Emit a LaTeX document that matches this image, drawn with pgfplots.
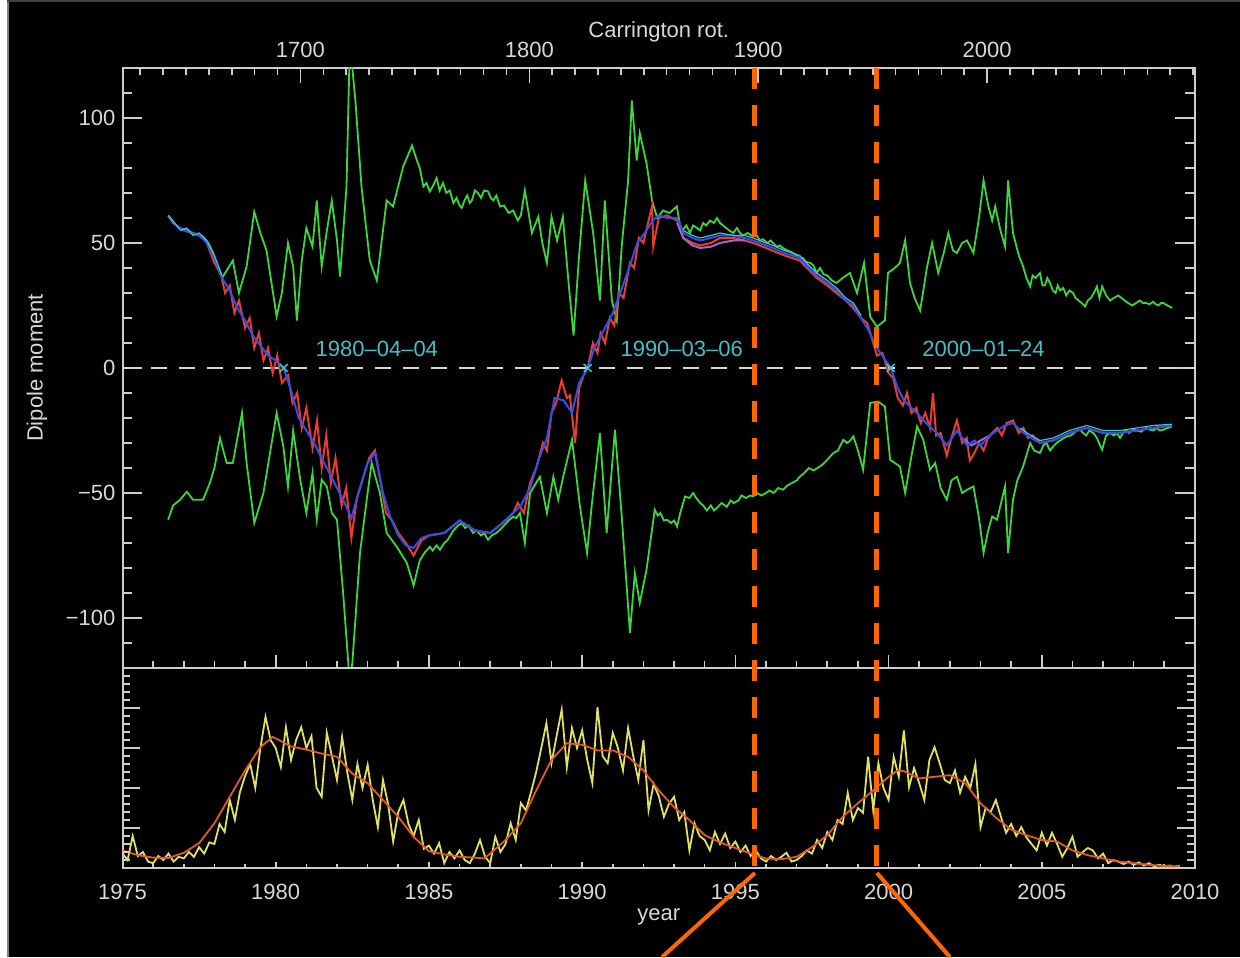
\documentclass[border=0pt]{standalone}
\usepackage{fontspec}
\setmainfont{Liberation Sans}
\usepackage{pgfplots}
\pgfplotsset{compat=1.18}
\definecolor{axc}{RGB}{205,205,205}
\definecolor{txt}{RGB}{215,215,215}
\definecolor{grn}{RGB}{60,215,60}
\definecolor{redl}{RGB}{235,60,50}
\definecolor{bluel}{RGB}{50,80,230}
\definecolor{cyanl}{RGB}{70,190,210}
\definecolor{purl}{RGB}{170,100,200}
\definecolor{lab}{RGB}{70,190,200}
\definecolor{yel}{RGB}{225,225,100}
\definecolor{smo}{RGB}{225,90,40}
\definecolor{orn}{RGB}{255,102,0}
\pgfplotsset{
  base/.style={scale only axis, width=536.25pt, xmin=1975, xmax=2010, anchor=south west,
    axis line style={draw=axc, line width=1pt}, tick style={draw=axc, line width=0.8pt},
    tick align=inside,
    ticklabel style={text=txt, font=\fontsize{11}{13}\selectfont},
    label style={text=txt, font=\fontsize{11}{13}\selectfont},
    /pgf/number format/assume math mode=true},
}
\begin{document}
\begin{tikzpicture}
\fill[black] (0,0) rectangle (620pt,478.5pt);
\fill[white] (0,0) rectangle (3.5pt,478.5pt);
\draw[gray, line width=0.7pt] (3.9pt,0) -- (3.9pt,478.5pt);
\draw[black!75, line width=1pt] (3.5pt,478pt) -- (620pt,478pt);

% ---------- top panel: data ----------
\begin{axis}[base, at={(61.25pt,144.5pt)}, height=300pt, ymin=-120, ymax=120,
  xtick=\empty, ytick={-100,-50,0,50,100}, yticklabels={−100,−50,0,50,100},
  minor ytick={-110,-100,...,110}, yticklabel pos=left,
  major tick length=10pt, minor tick length=5pt,
  ylabel={Dipole moment}, ylabel style={at={(axis description cs:-0.0797,0.5)}, anchor=center}]
\addplot[draw=txt, line width=1.2pt, dash pattern=on 8pt off 6pt] coordinates {(1975,0) (2010,0)};
% upper green
\addplot[draw=grn, line width=0.9pt] table {
1976.49 61
1976.65 58
1976.88 56
1977.1 55
1977.3 54
1977.63 52.5
1977.8 50
1977.96 46
1978.1 40
1978.25 36
1978.4 39
1978.6 43
1978.8 30
1979.05 40.6
1979.3 62.5
1979.5 54
1979.7 47
1979.85 35
1980.03 20.6
1980.2 30
1980.4 50
1980.57 40.5
1980.69 19
1980.85 43
1981.0 56
1981.2 48.6
1981.34 67
1981.5 40.6
1981.67 55
1981.83 67
1982.0 51
1982.1 36.6
1982.31 72.6
1982.41 125
1982.5 120
1982.6 107
1982.8 72.5
1983.07 43
1983.3 35
1983.62 67
1983.83 64.6
1984.16 80.6
1984.45 89
1984.58 84
1984.7 80
1984.82 72.6
1984.92 74
1985.03 70.6
1985.14 73
1985.25 76
1985.35 71
1985.46 74
1985.57 70
1985.68 71
1985.8 66
1985.9 68
1986.0 65
1986.07 64
1986.16 67
1986.25 69
1986.33 66
1986.4 67
1986.5 71
1986.6 70
1986.7 68
1986.8 71
1986.93 70.6
1987.02 68
1987.1 67
1987.2 69
1987.32 64.6
1987.45 65
1987.6 62
1987.75 63
1987.9 59
1988.0 61
1988.13 71
1988.36 54
1988.57 60.5
1988.7 50
1988.85 42
1989.0 60.5
1989.18 51
1989.37 60.5
1989.55 35
1989.72 13
1989.9 45
1990.1 75
1990.36 54
1990.58 27
1990.74 67
1990.97 27
1991.13 19
1991.3 50
1991.5 75
1991.62 107
1991.78 83
1991.88 94
1992.1 82
1992.28 67
1992.45 60
1992.64 63
1992.85 62
1993.09 64.6
1993.18 58
1993.26 55
1993.4 57
1993.52 54
1993.62 57
1993.75 56
1993.85 55
1993.95 58
1994.05 57
1994.17 59
1994.3 58
1994.4 60
1994.5 58
1994.6 57
1994.7 56
1994.8 55
1994.93 54
1995.05 56
1995.15 54
1995.25 53
1995.4 54
1995.58 52.6
1995.7 53
1995.8 51
1995.9 51.5
1996.05 50
1996.15 51
1996.23 50
1996.35 48.5
1996.45 49
1996.55 48
1996.7 47
1996.8 46.5
1996.88 46
1997.0 45
1997.1 44
1997.2 44
1997.3 42.5
1997.45 42
1997.55 41
1997.65 38
1997.76 40
1997.88 37.5
1998.0 37
1998.15 35
1998.3 34
1998.5 36
1998.74 38
1998.97 30
1999.2 42
1999.4 20.5
1999.62 16.5
1999.88 19
1999.98 38
2000.2 40
2000.37 42
2000.54 51
2000.7 34
2000.85 28
2001.03 23
2001.25 40
2001.42 50
2001.62 38
2001.8 46
2001.95 54
2002.1 47
2002.23 46
2002.4 50
2002.56 51
2002.77 46
2002.95 60
2003.1 75
2003.25 65
2003.38 59
2003.48 64.6
2003.65 55
2003.8 48.6
2003.9 75
2004.06 54
2004.25 45
2004.39 40.6
2004.5 36
2004.62 32.6
2004.7 37
2004.8 36
2004.94 38
2005.02 33
2005.1 33
2005.18 36
2005.27 34
2005.36 31
2005.45 30
2005.52 33
2005.6 31
2005.7 32
2005.8 29
2005.9 31
2006.02 30
2006.1 28
2006.2 27
2006.3 26
2006.41 24.6
2006.5 27
2006.6 28
2006.7 30
2006.8 32.6
2006.88 28
2006.97 32.6
2007.1 29
2007.23 27
2007.35 28
2007.49 29
2007.6 28
2007.7 27
2007.82 26
2007.95 25
2008.08 26
2008.2 27
2008.3 26
2008.4 26
2008.52 25.5
2008.63 26.5
2008.72 25.5
2008.8 25
2008.9 26
2008.96 26
2009.1 25
2009.18 24.5
2009.25 24
};
% lower green
\addplot[draw=grn, line width=0.9pt] table {
1976.49 -60.7
1976.65 -55
1976.88 -52.7
1977.1 -49.5
1977.3 -52.7
1977.63 -52.7
1977.85 -46
1978.0 -40
1978.18 -28
1978.4 -38
1978.6 -38
1978.9 -18
1979.05 -38
1979.3 -62
1979.6 -50
1979.8 -35
1980.03 -18
1980.25 -31.5
1980.4 -47.5
1980.57 -25
1980.8 -44.7
1981.0 -58
1981.2 -42
1981.34 -60.7
1981.5 -44.7
1981.67 -47.5
1981.83 -58
1982.0 -60.7
1982.2 -90
1982.41 -125
1982.5 -118
1982.6 -100.7
1982.75 -74
1982.97 -52.7
1983.13 -38
1983.4 -50
1983.62 -66
1983.95 -71.5
1984.28 -78
1984.5 -87
1984.7 -77
1984.85 -74
1985.03 -71.5
1985.12 -73
1985.25 -71
1985.36 -72.7
1985.5 -70
1985.6 -69
1985.7 -67
1985.8 -65
1985.95 -63
1986.07 -62
1986.18 -64
1986.3 -63
1986.44 -66
1986.55 -65
1986.7 -67
1986.8 -66
1986.93 -68.7
1987.05 -67
1987.2 -66
1987.32 -64.7
1987.45 -63
1987.6 -61
1987.75 -59.5
1987.85 -60
1987.97 -58
1988.13 -70
1988.3 -50
1988.62 -43.5
1988.85 -58
1989.06 -43.5
1989.22 -52.7
1989.38 -43.5
1989.67 -28.7
1989.93 -55.5
1990.16 -74
1990.32 -54
1990.58 -26
1990.8 -66
1991.07 -24.7
1991.3 -60.7
1991.56 -106
1991.72 -82
1991.88 -94
1992.1 -80.7
1992.37 -56.7
1992.47 -59
1992.55 -58
1992.67 -61
1992.77 -60.7
1992.9 -62
1993.0 -61
1993.1 -63.4
1993.2 -58
1993.36 -51.4
1993.5 -52
1993.62 -50
1993.72 -52
1993.85 -54
1993.95 -55
1994.07 -57
1994.2 -55
1994.3 -57
1994.4 -56
1994.55 -54
1994.72 -55.5
1994.85 -53
1994.95 -54
1995.1 -53
1995.2 -51
1995.35 -52
1995.48 -51
1995.58 -51.4
1995.7 -50
1995.85 -51
1996.0 -50
1996.12 -49
1996.25 -50
1996.4 -48
1996.56 -48.7
1996.7 -47
1996.85 -46
1997.0 -45
1997.1 -43.5
1997.25 -42
1997.4 -40
1997.55 -41
1997.76 -39.4
1997.9 -38
1998.05 -36
1998.2 -34
1998.35 -33
1998.52 -28.7
1998.65 -30
1998.75 -29
1998.85 -27.4
1999.0 -33
1999.17 -40.7
1999.4 -14
1999.66 -13.4
1999.88 -15.4
2000.05 -36.7
2000.37 -39.4
2000.54 -50
2000.75 -35
2000.93 -23.4
2001.13 -28.7
2001.35 -40.7
2001.52 -38
2001.7 -48
2001.9 -52.7
2002.05 -45
2002.23 -43.5
2002.4 -50
2002.56 -48.7
2002.77 -47.4
2002.95 -60
2003.1 -74
2003.25 -65
2003.38 -59.4
2003.54 -60.7
2003.8 -47.4
2003.9 -74
2004.06 -52.7
2004.2 -45
2004.39 -39.4
2004.62 -30
2004.75 -33
2004.94 -34
2005.05 -31
2005.15 -30
2005.27 -33
2005.37 -31.4
2005.48 -30
2005.6 -29
2005.72 -28
2005.83 -27.4
2005.95 -27
2006.05 -26
2006.15 -25
2006.25 -24.7
2006.35 -26
2006.45 -27
2006.55 -25
2006.68 -26
2006.8 -28
2006.9 -31
2006.97 -32.7
2007.05 -29
2007.1 -27
2007.23 -26
2007.35 -27
2007.45 -26
2007.55 -28
2007.65 -26
2007.75 -25
2007.85 -26
2007.98 -24.7
2008.1 -25
2008.25 -25.5
2008.4 -24
2008.53 -24.7
2008.65 -25
2008.75 -24
2008.85 -25
2008.96 -24.7
2009.1 -24
2009.25 -23.4
};
% red (noisy mean)
\addplot[draw=redl, line width=1pt] table {
1977.75 50
1978.0 42
1978.2 38
1978.35 30
1978.5 33
1978.65 22
1978.8 27
1979.0 16
1979.15 20
1979.3 8
1979.45 14
1979.6 3
1979.75 8
1979.9 -2
1980.05 5
1980.2 -6
1980.4 -3
1980.55 -14
1980.7 -10
1980.85 -24
1981.0 -16
1981.2 -32
1981.35 -21
1981.5 -40
1981.65 -27
1981.8 -46
1981.95 -36
1982.15 -55
1982.3 -48
1982.47 -68
1982.65 -52
1982.85 -44
1983.05 -36
1983.24 -33
1983.4 -44
1983.6 -58
1983.8 -61
1984.0 -66
1984.25 -70
1984.5 -75
1984.75 -69
1985.0 -67
1985.5 -66
1986.0 -61
1986.5 -65
1987.0 -66
1987.4 -62
1987.75 -58
1987.9 -54
1988.1 -58
1988.3 -46
1988.5 -40
1988.72 -30
1988.85 -33
1989.0 -18
1989.15 -14
1989.33 -5
1989.5 -12
1989.6 -11
1989.77 -30
1989.9 -8
1990.05 -3
1990.18 0
1990.35 10
1990.5 6
1990.6 14
1990.75 10
1990.9 20
1991.05 17
1991.2 30
1991.35 28
1991.56 42
1991.7 40
1991.85 52
1992.0 50
1992.15 58
1992.28 64.6
1992.32 48.6
1992.5 60
1992.77 61
1993.1 59
1993.3 52
1993.6 50
1993.85 49
1994.2 50
1994.5 52
1994.93 52
1995.3 51
1995.58 50
1996.0 48
1996.6 45
1997.1 43
1997.66 36
1998.0 33
1998.3 30
1998.6 27
1998.85 24
1999.1 20
1999.3 18
1999.5 10
1999.62 5
1999.8 6
2000.0 -2
2000.15 -4
2000.3 -12
2000.47 -15
2000.6 -10
2000.75 -18
2000.9 -16
2001.05 -22
2001.2 -18
2001.35 -24
2001.45 -10
2001.55 -27
2001.7 -26
2001.9 -35
2002.05 -28
2002.23 -21
2002.4 -30
2002.55 -28
2002.65 -37
2002.8 -34
2002.95 -30
2003.1 -33
2003.25 -28
2003.38 -26
2003.55 -24
2003.7 -27
2003.85 -22
2004.06 -21
2004.25 -26
2004.4 -24
2004.55 -28
2004.7 -27
2004.94 -30
2005.37 -29
2005.9 -26
2006.47 -24
2007.0 -26
2007.55 -26
2008.1 -25
2008.63 -24
2009.25 -23
};
% purple segments
\addplot[draw=purl, line width=1pt] table {
1993.1 58
1993.3 52
1993.6 49
1993.85 48
1994.2 48.5
1994.5 50
1994.93 51
1995.3 51
};
\addplot[draw=purl, line width=1pt] table {
2002.4 -28
2002.7 -31
2003.0 -29
2003.3 -27
};
% blue mean
\addplot[draw=bluel, line width=1pt] table {
1976.5 61
1976.75 57
1977.0 55
1977.25 54
1977.5 53
1977.75 50
1978.0 44
1978.25 36
1978.5 31
1978.75 24
1979.0 19
1979.25 13
1979.5 9
1979.75 5
1980.0 3
1980.26 0
1980.5 -9
1980.75 -20
1981.0 -25
1981.25 -30
1981.5 -36
1981.75 -42
1982.0 -48
1982.25 -54
1982.47 -60
1982.75 -48
1983.0 -38
1983.24 -34
1983.5 -50
1983.75 -60
1984.0 -67
1984.25 -71
1984.5 -72
1984.75 -68
1985.0 -67
1985.5 -66
1986.0 -61
1986.5 -65
1987.0 -66
1987.4 -62
1987.75 -58
1988.0 -55
1988.3 -48
1988.6 -36
1988.85 -28
1989.1 -12
1989.4 -13
1989.67 -18
1989.9 -6
1990.18 0
1990.4 8
1990.7 15
1991.0 22
1991.3 32
1991.56 41
1991.8 50
1992.1 55
1992.3 59
1992.5 61
1992.77 60
1993.1 60
1993.3 54
1993.6 52
1993.85 51
1994.2 52
1994.5 53
1994.93 53
1995.3 52
1995.58 51
1996.0 49
1996.23 48
1996.6 46
1997.1 44
1997.4 40
1997.66 37
1998.0 34
1998.3 31
1998.6 27
1998.85 25
1999.1 20
1999.35 15
1999.62 8
1999.85 4
2000.07 0
2000.3 -8
2000.5 -13
2000.75 -16
2001.0 -19
2001.3 -23
2001.58 -26
2001.9 -31
2002.23 -25
2002.56 -31
2002.8 -29
2003.0 -31
2003.3 -27
2003.54 -25
2003.8 -23
2004.06 -22
2004.3 -25
2004.52 -27
2004.94 -30
2005.37 -29
2005.9 -26
2006.47 -24
2007.0 -26
2007.55 -26
2008.1 -25
2008.63 -24
2009.25 -23
};
% cyan segments (thin, on top)
\addplot[draw=cyanl, line width=0.6pt] table {
1976.5 61
1976.7 58
1976.9 55
1977.1 56
1977.3 53
1977.5 54
1977.75 51
1978.0 45
1978.25 37
};
\addplot[draw=cyanl, line width=0.6pt] table {
1993.3 55
1993.6 53
1993.85 52
1994.2 53
1994.5 54
1994.93 53
1995.3 53
1995.58 52
1996.0 50
1996.23 49
1996.6 47
1997.1 45
1997.4 41
1997.66 38
1998.0 35
1998.3 32
1998.6 28
1998.85 26
1999.1 21
};
\addplot[draw=cyanl, line width=0.6pt] table {
2004.3 -24
2004.52 -26
2004.94 -29
2005.37 -28
2005.9 -25
2006.47 -23
2007.0 -25
2007.55 -25
2008.1 -24
2008.63 -23
2009.25 -22.5
};
\addplot[only marks, mark=x, mark size=2.8pt, draw=lab, line width=0.8pt] coordinates {(1980.26,0) (1990.18,0) (2000.07,0)};
\node[text=lab, anchor=west, font=\fontsize{11}{13}\selectfont, inner sep=0pt] at (axis cs:1981.29,7.7) {1980–04–04};
\node[text=lab, anchor=west, font=\fontsize{11}{13}\selectfont, inner sep=0pt] at (axis cs:1991.24,7.7) {1990–03–06};
\node[text=lab, anchor=west, font=\fontsize{11}{13}\selectfont, inner sep=0pt] at (axis cs:2001.09,7.7) {2000–01–24};
\end{axis}

% ---------- top panel: year ticks on its lower edge ----------
\begin{axis}[base, at={(61.25pt,144.5pt)}, height=300pt, ymin=0, ymax=1,
  hide y axis, axis line style={draw=none},
  xtick={1975,1980,...,2010}, minor xtick={1976,1977,...,2009},
  xticklabels={,,,,,,,}, xtick pos=left, major tick length=6.5pt, minor tick length=3.5pt]
\end{axis}

% ---------- top panel: Carrington rotation axis ----------
\begin{axis}[base, at={(61.25pt,144.5pt)}, height=300pt, xmin=1622.28, xmax=2090.8, ymin=0, ymax=1,
  hide y axis, axis line style={draw=none},
  xtick={1700,1800,1900,2000}, xticklabels={1700,1800,1900,2000},
  minor xtick={1630,1640,...,2090},
  xtick pos=right, xticklabel pos=right, major tick length=7.5pt, minor tick length=3.5pt,
  xticklabel style={yshift=1.5pt},
  xlabel={Carrington rot.}, xlabel style={at={(axis description cs:0.5,1.06)}, anchor=center}]
\end{axis}

% ---------- bottom panel: sunspot data ----------
\begin{axis}[base, at={(61.25pt,44.5pt)}, height=100pt, ymin=0, ymax=250,
  ytick=\empty, xtick={1975,1980,...,2010},
  xticklabels={1975,1980,1985,1990,1995,2000,2005,2010},
  minor xtick={1976,1977,...,2009}, xtick pos=left,
  major tick length=3pt, minor tick length=2pt, xticklabel style={yshift=-4.4pt},
  xlabel={year}, xlabel style={at={(axis description cs:0.5,-0.245)}, anchor=center}]
\addplot[draw=yel, line width=0.9pt] table {
1975.000 18
1975.167 10
1975.333 40
1975.500 15
1975.667 20
1975.833 8
1976.000 6
1976.167 15
1976.333 10
1976.500 18
1976.667 8
1976.833 14
1977.000 12
1977.167 20
1977.333 14
1977.500 26
1977.667 18
1977.833 32
1978.000 30
1978.167 55
1978.333 45
1978.500 85
1978.667 60
1978.833 95
1979.000 115
1979.167 130
1979.333 100
1979.500 150
1979.667 189
1979.833 160
1980.000 150
1980.167 126
1980.333 176
1980.500 135
1980.667 160
1980.833 176
1981.000 150
1981.167 165
1981.333 100
1981.500 89
1981.667 169
1981.833 140
1982.000 110
1982.167 164
1982.333 120
1982.500 85
1982.667 130
1982.833 100
1983.000 129
1983.167 85
1983.333 51
1983.500 110
1983.667 80
1983.833 33
1984.000 70
1984.167 85
1984.333 55
1984.500 40
1984.667 60
1984.833 24
1985.000 28
1985.167 18
1985.333 31
1985.500 6
1985.667 20
1985.833 12
1986.000 22
1986.167 10
1986.333 6
1986.500 18
1986.667 35
1986.833 14
1987.000 6
1987.167 39
1987.333 20
1987.500 30
1987.667 56
1987.833 35
1988.000 81
1988.167 72
1988.333 95
1988.500 120
1988.667 150
1988.833 181
1989.000 131
1989.167 165
1989.333 198
1989.500 126
1989.667 175
1989.833 150
1990.000 172
1990.167 135
1990.333 106
1990.500 201
1990.667 140
1990.833 131
1991.000 169
1991.167 150
1991.333 122
1991.500 175
1991.667 140
1991.833 110
1992.000 160
1992.167 72
1992.333 105
1992.500 90
1992.667 64
1992.833 80
1993.000 89
1993.167 60
1993.333 70
1993.500 22
1993.667 56
1993.833 40
1994.000 35
1994.167 22
1994.333 45
1994.500 30
1994.667 43
1994.833 25
1995.000 33
1995.167 20
1995.333 28
1995.500 15
1995.667 22
1995.833 12
1996.000 8
1996.167 15
1996.333 10
1996.500 14
1996.667 19
1996.833 8
1997.000 10
1997.167 15
1997.333 22
1997.500 18
1997.667 35
1997.833 25
1998.000 45
1998.167 35
1998.333 60
1998.500 55
1998.667 94
1998.833 60
1999.000 75
1999.167 69
1999.333 139
1999.500 72
1999.667 131
1999.833 100
2000.000 85
2000.167 139
2000.333 114
2000.500 172
2000.667 101
2000.833 125
2001.000 106
2001.167 85
2001.333 135
2001.500 151
2001.667 131
2001.833 110
2002.000 106
2002.167 122
2002.333 94
2002.500 114
2002.667 100
2002.833 130
2003.000 51
2003.167 75
2003.333 70
2003.500 85
2003.667 64
2003.833 44
2004.000 55
2004.167 40
2004.333 51
2004.500 38
2004.667 30
2004.833 22
2005.000 44
2005.167 28
2005.333 44
2005.500 30
2005.667 14
2005.833 25
2006.000 39
2006.167 14
2006.333 20
2006.500 25
2006.667 22
2006.833 12
2007.000 18
2007.167 6
2007.333 10
2007.500 8
2007.667 5
2007.833 8
2008.000 4
2008.167 7
2008.333 3
2008.500 6
2008.667 2
2008.833 4
2009.000 2
2009.167 3
2009.333 1
2009.500 3
};
\addplot[draw=smo, line width=0.9pt] table {
1975.0 22
1975.5 16
1976.0 13
1976.5 12.5
1977.0 19
1977.5 31
1978.0 56
1978.5 89
1979.0 122
1979.5 151
1979.9 164
1980.5 152
1981.0 148
1981.5 143
1982.0 139
1982.5 118
1983.0 106
1983.5 85
1984.0 64
1984.5 39
1985.0 21
1985.5 17
1986.0 14
1986.5 13
1986.8 12
1987.0 18
1987.5 35
1988.0 56
1988.5 97
1989.0 135
1989.5 156
1990.0 154
1990.5 147
1991.0 147
1991.5 139
1992.0 122
1992.5 97
1993.0 76
1993.5 60
1994.0 41
1994.5 32
1995.0 25
1995.5 18
1996.0 12
1996.5 11
1997.0 14
1997.5 26
1998.0 41
1998.5 64
1999.0 81
1999.5 97
2000.0 114
2000.3 122
2000.5 121
2001.0 112
2001.5 114
2002.0 116
2002.5 106
2003.0 81
2003.5 63
2004.0 48
2004.5 41
2005.0 35
2005.5 33
2006.0 22
2006.5 16
2007.0 12
2007.5 8
2008.0 6
2008.5 4
2009.0 2.5
2009.5 2
};
\end{axis}

% ---------- bottom panel: y ticks ----------
\begin{axis}[base, at={(61.25pt,44.5pt)}, height=100pt, ymin=0, ymax=250,
  hide x axis, axis line style={draw=none},
  ytick={0,50,...,250}, minor ytick={10,20,...,240}, yticklabels={,,,,,},
  major tick length=9pt, minor tick length=4pt]
\end{axis}

% ---------- orange annotation (px units above the lower axis line) ----------
\begin{axis}[base, at={(61.25pt,44.5pt)}, height=400pt, ymin=0, ymax=800,
  hide axis, clip=false]
\addplot[draw=orn, line width=2.5pt, dash pattern=on 10.5pt off 8pt] coordinates {(1995.64,800) (1995.64,-5)};
\addplot[draw=orn, line width=2.5pt, dash pattern=on 10.5pt off 8pt] coordinates {(1999.62,800) (1999.62,-5)};
\addplot[draw=orn, line width=2pt] coordinates {(1995.64,-5) (1992.61,-89)};
\addplot[draw=orn, line width=2pt] coordinates {(1999.62,-5) (2002.0,-89)};
\end{axis}
\pgfresetboundingbox
\path[use as bounding box] (0,0) rectangle (620pt,478.5pt);
\end{tikzpicture}
\end{document}
